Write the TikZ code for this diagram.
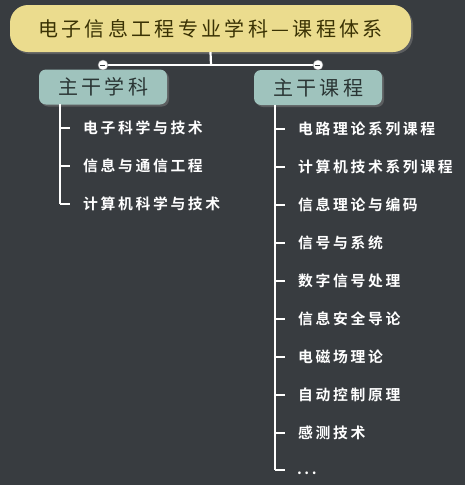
\documentclass[tikz,border=0pt]{standalone}
\usepackage{fontspec}
\newfontfamily\cjk{Noto Sans CJK SC}
\newfontfamily\cjkb[LetterSpace=18]{Noto Sans CJK SC Bold}
\usetikzlibrary{shadows}
\definecolor{bg}{HTML}{383C40}
\definecolor{titlefill}{HTML}{EBDC8E}
\definecolor{titletext}{HTML}{3A3204}
\definecolor{boxfill}{HTML}{9FC3BD}
\definecolor{boxtext}{HTML}{2A3534}
\tikzset{
  x=1pt,y=-1pt,
  titlebox/.style={draw=none,fill=titlefill,rounded corners=18pt,minimum width=401pt,minimum height=47pt,
    font=\cjk\fontsize{20}{20}\selectfont,text=titletext,drop shadow={shadow xshift=2pt,shadow yshift=-2pt,opacity=0.5}},
  catbox/.style={draw=none,fill=boxfill,rounded corners=7pt,minimum width=128pt,minimum height=35pt,
    font=\cjk\fontsize{20}{20}\selectfont,text=boxtext,drop shadow={shadow xshift=2pt,shadow yshift=-2pt,opacity=0.5}},
  item/.style={anchor=west,inner sep=0pt,text=white,font=\cjkb\fontsize{14.8}{14.8}\selectfont},
  wline/.style={draw=white,line width=2.2pt},
  tline/.style={draw=white,line width=1.6pt},
  knob/.style={circle,fill=white,draw=bg!60,line width=0.4pt,minimum size=10pt,inner sep=0pt},
}
\begin{document}
\begin{tikzpicture}
\fill[bg] (0,0) rectangle (465,485);
\useasboundingbox (0,0) rectangle (465,485);
\node[titlebox] (title) at (210.5,28.5) {电\,子\,信\,息\,工\,程\,专\,业\,学\,科\,—\,课\,程\,体\,系};
\coordinate (jn) at (211,65);
\node[catbox] (c1) at (103,87) {主\,干\,学\,科};
\node[catbox] (c2) at (318,87.5) {主\,干\,课\,程};
\draw[wline] (title.south) -- (jn);
\coordinate (k1) at (103,65);
\coordinate (k2) at (318,65);
\draw[wline] (k1) -- (k2);
\node[knob] (n1) at (k1) {};
\node[knob] (n2) at (k2) {};
\draw[line width=1pt,bg] (n1.west)++(2.5,0) -- ++(5,0);
\draw[line width=1pt,bg] (n2.west)++(2.5,0) -- ++(5,0);
% left list
\foreach \t [count=\i] in {电子科学与技术,信息与通信工程,计算机科学与技术}{
  \node[item] (a\i) at (83,90+38*\i) {\t};
  \coordinate (ta\i) at (60,90+38*\i);
  \draw[tline] (ta\i) -- ++(10,0);
}
\draw[tline] (60,104) -- (ta3);
% right list
\foreach \t [count=\i] in {电路理论系列课程,计算机技术系列课程,信息理论与编码,信号与系统,数字信号处理,信息安全导论,电磁场理论,自动控制原理,感测技术}{
  \node[item] (b\i) at (298,91+38*\i) {\t};
  \coordinate (tb\i) at (275,91+38*\i);
  \draw[tline] (tb\i) -- ++(10,0);
}
\coordinate (tb10) at (275,470);
\draw[tline] (tb10) -- ++(10,0);
\node[item] (b10) at (297,473) {.\,.\,.};
\draw[tline] (275,105) -- (tb10);
\end{tikzpicture}
\end{document}
